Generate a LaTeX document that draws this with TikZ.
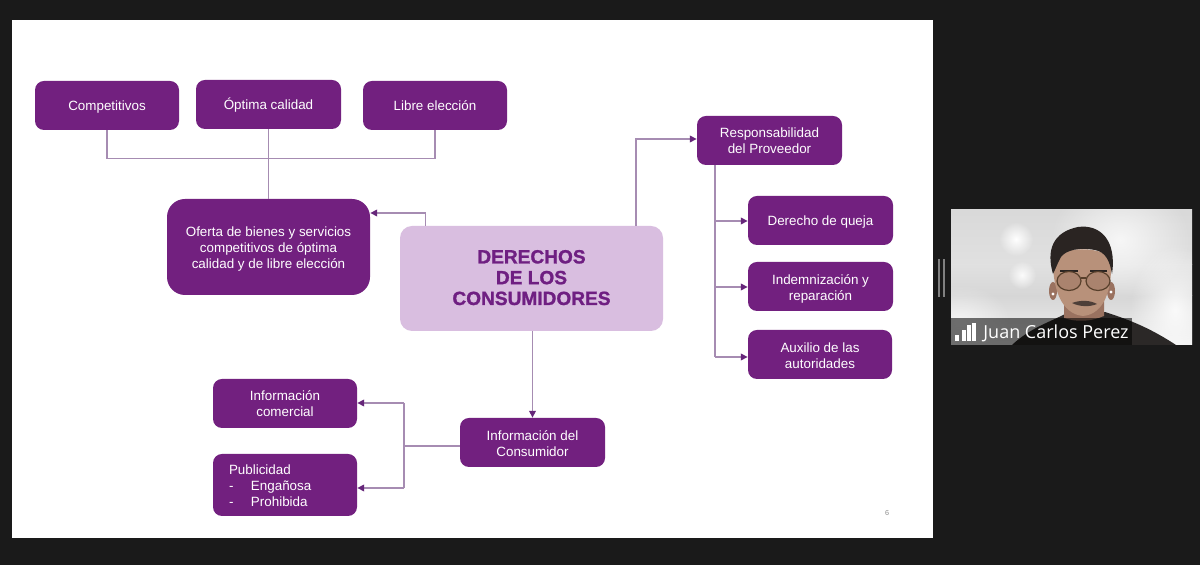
\documentclass[tikz,border=0pt]{standalone}
\usepackage{fontspec}
\setmainfont{Liberation Sans}
\newfontfamily\namefont{Open Sans}
\newfontfamily\hubfont[UprightFont=* Bold,FakeBold=1.2]{Liberation Sans}
\usetikzlibrary{arrows.meta,shadings,fadings}
\definecolor{boxpurple}{HTML}{72207F}
\definecolor{lilac}{HTML}{D9BEE0}
\definecolor{linepurple}{HTML}{A68CB2}
\definecolor{tippurple}{HTML}{66267A}
\definecolor{screenbg}{HTML}{1A1A1A}
\definecolor{titlepurple}{HTML}{6F1F82}
\definecolor{skin}{HTML}{B8917A}
\definecolor{skindark}{HTML}{9A7260}
\definecolor{hairc}{HTML}{2A2422}
\definecolor{shirtc}{HTML}{2B2827}
\newcommand\lnone{\rule[-2pt]{0pt}{9pt}}
\newcommand\lntop{\rule{0pt}{8pt}}
\newcommand\lnbot{\rule[-2pt]{0pt}{6pt}}
\tikzfading[name=glow,inner color=transparent!0,outer color=transparent!100]
\tikzset{
  wd/.style={minimum width=#1*0.5pt},
  ht/.style={minimum height=#1*0.5pt},
  box/.style={draw=none,fill=boxpurple,rounded corners=4.5pt,inner sep=0pt,text=white,
    align=center,font=\fontsize{6.7pt}{8pt}\selectfont},
  bigbox/.style={box,rounded corners=9pt},
  hub/.style={box,fill=lilac,rounded corners=6pt,text=titlepurple,
    font=\fontsize{9.55pt}{10.4pt}\hubfont},
  listbox/.style={box,align=left,text width=112*0.5pt,inner xsep=16*0.5pt},
  link/.style={draw=linepurple,line width=0.65pt},
  arr/.style={link,-{Triangle[length=3.4pt,width=3.4pt,color=tippurple]}},
}
\begin{document}
\begin{tikzpicture}[x=0.5pt,y=-0.5pt]
\useasboundingbox (0,0) rectangle (1200,565);
\fill[screenbg] (0,0) rectangle (1200,565);
\fill[white] (12,20) rectangle (933,538);

% nodes
\node[box,wd=144,ht=49] (comp) at (107,105.5) {\lnone Competitivos};
\node[box,wd=145,ht=49] (opt) at (268.5,104.5) {\lnone Óptima calidad};
\node[box,wd=144,ht=49] (lib) at (435,105.5) {\lnone Libre elección};
\node[bigbox,wd=203,ht=96] (ofe) at (268.5,247) {\lntop Oferta de bienes y servicios\\competitivos de óptima\\calidad y de libre elección\lnbot};
\node[hub,wd=263,ht=105] (cen) at (531.5,278.5) {\rule{0pt}{8.7pt}DERECHOS\\DE LOS\\CONSUMIDORES\rule[-3pt]{0pt}{8pt}};
\node[box,wd=145,ht=49] (resp) at (769.5,140.5) {\lntop Responsabilidad\\del Proveedor\rule[-2.5pt]{0pt}{6pt}};
\node[box,wd=145,ht=49] (que) at (820.5,220.5) {\lnone Derecho de queja};
\node[box,wd=145,ht=49] (ind) at (820.5,286.5) {\lntop Indemnización y\\reparación\lnbot};
\node[box,wd=144,ht=49] (aux) at (820,354.5) {\lntop Auxilio de las\\autoridades\lnbot};
\node[box,wd=145,ht=49] (inf) at (532.5,442.5) {\lntop Información del\\Consumidor\lnbot};
\node[box,wd=144,ht=49] (com) at (285,403.5) {\lntop Información\\comercial\rule[-2.5pt]{0pt}{6pt}};
\node[box,listbox,ht=62] (pub) at (285,485) {\lntop Publicidad\\\makebox[11pt][l]{-}Engañosa\\\makebox[11pt][l]{-}Prohibida\lnbot};
\node[text=black!45,font=\fontsize{3.6pt}{4pt}\selectfont,inner sep=0pt] (page) at (887,513.5) {6};

% junction coordinates
\coordinate (brk) at (268.5,158.5);
\coordinate (up1) at (425.5,213);
\coordinate (up2) at (636,139);
\coordinate (sp) at (715,221);
\coordinate (sp2) at (715,287);
\coordinate (sp3) at (715,357);
\coordinate (lf) at (404,403);
\coordinate (lf2) at (404,488);

% connectors
\draw[link] (comp.south) |- (brk) -| (lib.south);
\draw[link] (opt.south) -- (ofe.north);
\draw[arr] (cen.north -| up1) |- (ofe.east |- up1);
\draw[arr] (cen.north -| up2) |- (resp.west |- up2);
\draw[link] (resp.south -| sp) -- (sp3);
\draw[arr] (sp) -- (que.west |- sp);
\draw[arr] (sp2) -- (ind.west |- sp2);
\draw[arr] (sp3) -- (aux.west |- sp3);
\draw[arr] (cen.south -| inf.north) -- (inf.north);
\draw[link] (inf.west |- 0,446) -- (lf |- 0,446);
\draw[arr] (lf2) -- (pub.east |- lf2);
\draw[arr] (lf) -- (com.east |- lf);
\draw[link] (lf) -- (lf2);

% panel handle
\fill[black!50!white] (938,259) rectangle (940,297);
\fill[black!50!white] (943,259) rectangle (945,297);

% video tile
\begin{scope}
\clip (951,210) rectangle (1192,345);
\shade[top color=black!15,bottom color=black!12] (951,210) rectangle (1192,265);
\shade[top color=black!12,bottom color=black!16] (951,265) rectangle (1192,296);
\shade[top color=black!16,bottom color=black!6] (951,296) rectangle (1192,345);
\fill[white,opacity=.75,path fading=glow] (1120,240) ellipse (70 and 60);
\fill[white,opacity=.85,path fading=glow] (1175,310) ellipse (45 and 65);
\fill[white,opacity=.6,path fading=glow] (960,320) ellipse (50 and 35);
\fill[white,path fading=glow] (1016,239) circle (17);
\fill[white,opacity=.9,path fading=glow] (1022,275) circle (14);
% shirt
\fill[shirtc] (1012,345) .. controls (1030,328) and (1050,322) .. (1065,314) -- (1105,312) .. controls (1130,320) and (1150,328) .. (1176,345) -- cycle;
% neck
\fill[skindark] (1064,300) -- (1104,300) -- (1104,316) .. controls (1090,322) and (1076,322) .. (1064,318) -- cycle;
% ears
\fill[skindark] (1053,291) ellipse (4 and 9);
\fill[skindark] (1111,291) ellipse (4 and 9);
\fill[white] (1053,294) circle (1.6);
\fill[white] (1111,292) circle (1.6);
% face
\fill[skin] (1053,262) .. controls (1053,245) and (1111,245) .. (1111,262)
  .. controls (1112,288) and (1105,314) .. (1083,316)
  .. controls (1061,314) and (1053,288) .. (1053,262) -- cycle;
% hair
\fill[hairc] (1053,274) .. controls (1046,250) and (1053,232) .. (1078,227)
  .. controls (1100,224) and (1117,240) .. (1112,274)
  .. controls (1110,262) and (1106,252) .. (1095,250)
  .. controls (1080,247) and (1066,250) .. (1061,257)
  .. controls (1058,262) and (1056,268) .. (1053,274) -- cycle;
% brows, glasses, mouth
\draw[hairc,line width=1pt] (1060,271) -- (1078,271);
\draw[hairc,line width=1pt] (1090,271) -- (1107,271);
\fill[skindark,opacity=.45] (1069,281) ellipse (12 and 9.5);
\fill[skindark,opacity=.45] (1098,281) ellipse (12 and 9.5);
\draw[hairc!70!brown,line width=.6pt] (1069,281) ellipse (12 and 9.5);
\draw[hairc!70!brown,line width=.6pt] (1098,281) ellipse (12 and 9.5);
\draw[hairc!70!brown,line width=.6pt] (1081,278) -- (1086,278);
\fill[hairc!75!skin] (1072,303) .. controls (1080,300) and (1090,300) .. (1097,304) .. controls (1090,307) and (1080,307) .. (1072,303) -- cycle;
% name bar
\fill[black,opacity=.55] (951,318) rectangle (1132,345);
\end{scope}
\fill[white] (955,335) rectangle (959,341);
\fill[white] (962,330) rectangle (966,341);
\fill[white] (967,325) rectangle (971,341);
\fill[white] (972,323) rectangle (976,341);
\node[anchor=west,inner sep=0pt,text=white,font=\fontsize{9pt}{10pt}\namefont] (who) at (983,333.5) {Juan Carlos Perez};
\end{tikzpicture}
\end{document}
